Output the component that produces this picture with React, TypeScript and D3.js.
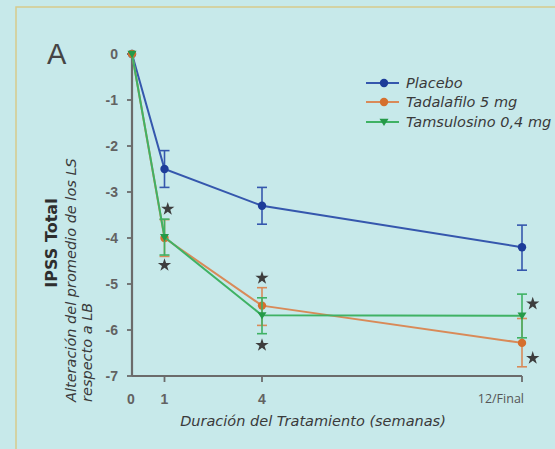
import * as d3 from "d3";

const weeks = [0, 1, 4, 12];
const xTicks = [0, 1, 4];
const yTicks = [0, -1, -2, -3, -4, -5, -6, -7];

const placebo = [0, -2.5, -3.3, -4.2];
const placeboHi = [0, -2.1, -2.9, -3.72];
const placeboLo = [0, -2.9, -3.7, -4.7];

const tadalafilo = [0, -4.0, -5.47, -6.28];
const tadalafiloHi = [0, -3.6, -5.08, -5.75];
const tadalafiloLo = [0, -4.4, -5.9, -6.8];

const tamsulosino = [0, -3.98, -5.68, -5.69];
const tamsulosinoHi = [0, -3.59, -5.3, -5.22];
const tamsulosinoLo = [0, -4.37, -6.08, -6.17];

// significance stars (week position, value)
const starWeeks = [1.1, 1, 4, 4, 12.33, 12.33];
const starValues = [-3.37, -4.59, -4.87, -6.33, -5.43, -6.61];

const seriesNames = ["Placebo", "Tadalafilo 5 mg", "Tamsulosino 0,4 mg"];

const W = 555;
const H = 449;
const BG = "#c7e9ea";
const AXIS = "#6b6b6b";
const TEXT = "#3a3a3a";

const x = d3.scaleLinear().domain([0, 12]).range([132, 522]);
const y = d3.scaleLinear().domain([0, -7]).range([54, 376]);

const line = d3
  .line<number>()
  .x((_, i) => x(weeks[i]))
  .y((d) => y(d));

const series = [
  { name: seriesNames[0], vals: placebo, hi: placeboHi, lo: placeboLo, line: "#3557ad", mark: "#1d3c99", shape: "circle" },
  { name: seriesNames[1], vals: tadalafilo, hi: tadalafiloHi, lo: tadalafiloLo, line: "#d98a58", mark: "#d5702e", shape: "circle" },
  { name: seriesNames[2], vals: tamsulosino, hi: tamsulosinoHi, lo: tamsulosinoLo, line: "#3fb264", mark: "#249a48", shape: "tri" },
];

const triDown = (cx: number, cy: number, s: number) =>
  `M${cx - s},${cy - s * 0.7}L${cx + s},${cy - s * 0.7}L${cx},${cy + s * 0.9}Z`;

const star = d3.symbol().type(d3.symbolStar).size(55)();

const sans = "'DejaVu Sans', 'Noto Sans', sans-serif";
const plain = "'Open Sans', 'Noto Sans', sans-serif";
const bold = "'Liberation Sans', Arial, sans-serif";

function Marker({ shape, cx, cy, color }: { shape: string; cx: number; cy: number; color: string }) {
  if (shape === "tri") return <path d={triDown(cx, cy, 4.5)} fill={color} />;
  return <circle cx={cx} cy={cy} r={4.2} fill={color} />;
}

export default function App() {
  const legendY = [83, 102, 122];
  return (
    <svg
      width={W}
      height={H}
      style={{ position: "absolute", left: 0, top: 0, display: "block", background: BG }}
    >
      <rect width={W} height={H} fill={BG} />
      <path d={`M16,${H}V7H${W}`} fill="none" stroke="#d8ca8c" strokeWidth={1.5} />

      {/* panel letter */}
      <text x={47} y={64} fontFamily={bold} fontSize={29} fill="#454545">A</text>

      {/* y axis */}
      <line x1={x(0)} x2={x(0)} y1={y(0)} y2={y(-7)} stroke={AXIS} strokeWidth={2.2} />
      {yTicks.map((t) => (
        <g key={t}>
          <line x1={x(0) - 5} x2={x(0)} y1={y(t)} y2={y(t)} stroke={AXIS} strokeWidth={1.8} />
          <text
            x={118}
            y={y(t)}
            dy="0.36em"
            textAnchor="end"
            fontFamily={bold}
            fontWeight="bold"
            fontSize={14}
            fill="#626262"
          >
            {t === 0 ? "0" : `-${Math.abs(t)}`}
          </text>
        </g>
      ))}

      {/* x axis */}
      <line x1={x(0)} x2={x(12)} y1={y(-7)} y2={y(-7)} stroke={AXIS} strokeWidth={2.2} />
      {[1, 4, 12].map((t) => (
        <line key={t} x1={x(t)} x2={x(t)} y1={y(-7)} y2={y(-7) + 6} stroke={AXIS} strokeWidth={1.8} />
      ))}
      {xTicks.map((t) => (
        <text
          key={t}
          x={x(t) - (t === 0 ? 1 : 0)}
          y={404}
          textAnchor="middle"
          fontFamily={bold}
          fontWeight="bold"
          fontSize={14}
          fill="#626262"
        >
          {t}
        </text>
      ))}
      <text x={x(12) + 2} y={403} textAnchor="end" fontFamily={plain} fontSize={12.5} fill="#555">
        12/Final
      </text>

      {/* axis titles */}
      <text
        x={313}
        y={426}
        textAnchor="middle"
        fontFamily={sans}
        fontStyle="italic"
        fontSize={14.5}
        fill={TEXT}
      >
        Duración del Tratamiento (semanas)
      </text>
      <text
        transform="translate(57,243) rotate(-90)"
        textAnchor="middle"
        fontFamily="'DejaVu Sans', sans-serif"
        fontWeight="bold"
        fontSize={16}
        fill="#2e2e2e"
      >
        IPSS Total
      </text>
      <text
        transform="translate(76,402) rotate(-90)"
        fontFamily={sans}
        fontStyle="italic"
        fontSize={14.5}
        fill={TEXT}
      >
        Alteración del promedio de los LS
      </text>
      <text
        transform="translate(92,402) rotate(-90)"
        fontFamily={sans}
        fontStyle="italic"
        fontSize={14.5}
        fill={TEXT}
      >
        respecto a LB
      </text>

      {/* series */}
      {series.map((s) => (
        <g key={s.name}>
          <path d={line(s.vals) ?? ""} fill="none" stroke={s.line} strokeWidth={2} />
          {weeks.map((w, i) =>
            i === 0 ? null : (
              <g key={w} stroke={s.line} strokeWidth={1.6}>
                <line x1={x(w)} x2={x(w)} y1={y(s.hi[i])} y2={y(s.lo[i])} />
                <line x1={x(w) - 5} x2={x(w) + 5} y1={y(s.hi[i])} y2={y(s.hi[i])} />
                <line x1={x(w) - 5} x2={x(w) + 5} y1={y(s.lo[i])} y2={y(s.lo[i])} />
              </g>
            )
          )}
          {weeks.map((w, i) => (
            <Marker key={w} shape={s.shape} cx={x(w)} cy={y(s.vals[i])} color={s.mark} />
          ))}
        </g>
      ))}

      {/* stars */}
      {starWeeks.map((w, i) => (
        <path key={i} d={star ?? ""} transform={`translate(${x(w)},${y(starValues[i])})`} fill="#3d3d3d" />
      ))}

      {/* legend */}
      {series.map((s, i) => (
        <g key={s.name}>
          <line x1={366} x2={399} y1={legendY[i]} y2={legendY[i]} stroke={s.line} strokeWidth={2} />
          <Marker shape={s.shape} cx={384} cy={legendY[i]} color={s.mark} />
          <text
            x={406}
            y={legendY[i]}
            dy="0.36em"
            fontFamily={sans}
            fontStyle="italic"
            fontSize={14.5}
            fill={TEXT}
          >
            {s.name}
          </text>
        </g>
      ))}
    </svg>
  );
}
